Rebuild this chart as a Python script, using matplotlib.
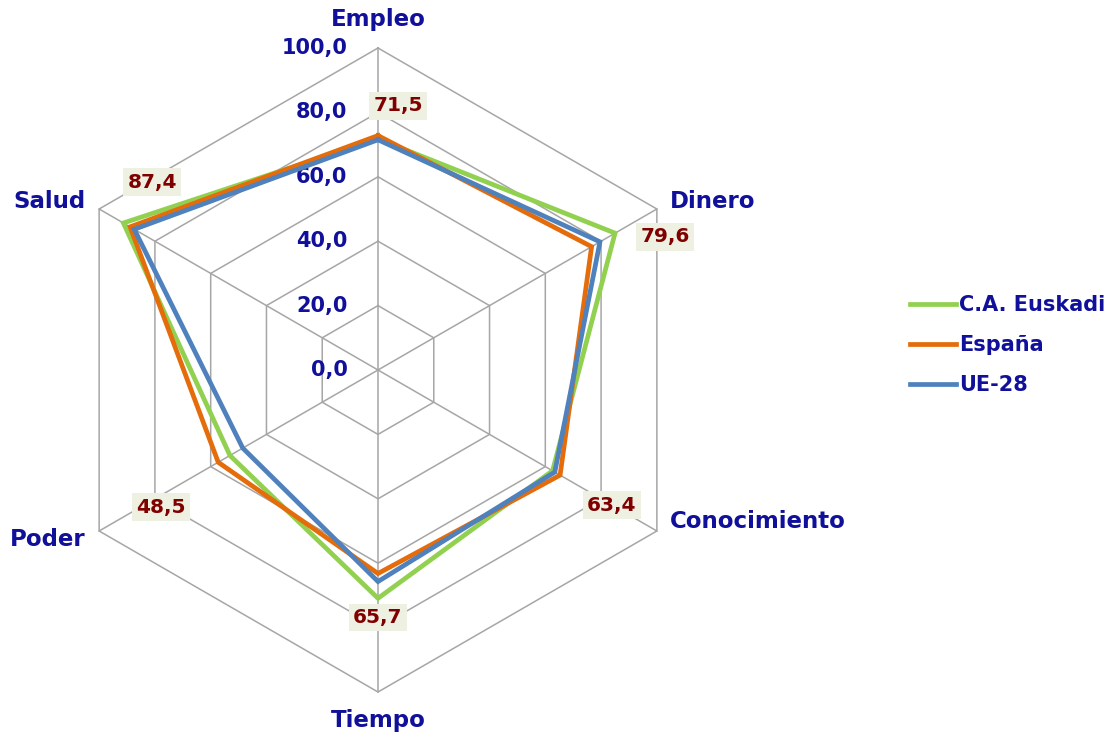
import numpy as np
import matplotlib.pyplot as plt

# ejes del radar (sentido horario desde arriba)
axes_names = ["Empleo", "Dinero", "Conocimiento", "Tiempo", "Poder", "Salud"]
series_names = ["C.A. Euskadi", "España", "UE-28"]
euskadi = [71.8, 85.0, 62.6, 70.9, 53.1, 91.3]
espana = [72.8, 76.6, 65.3, 63.2, 57.3, 88.9]
ue28 = [71.5, 79.6, 63.4, 65.7, 48.5, 87.4]
ring_values = [0, 20, 40, 60, 80, 100]

colors = ["#92d050", "#e46c0a", "#4f81bd"]
navy = "#10109a"
PX = 3.22  # pixels per unit

# offsets (pixels) for the data labels of UE-28 and the axis names
label_off = [(20, 34), (65, 5), (57, -33), (0, -36), (-82, -59), (18, 47)]
name_off = [(0, 28), (13, 8), (13, 10), (0, -28), (-14, -9), (-14, 7)]
name_ha = ["center", "left", "left", "center", "right", "right"]

theta = np.deg2rad(90 - 60 * np.arange(len(axes_names)))


def xy(values):
    v = np.asarray(values, dtype=float)
    x = v * np.cos(theta)
    y = v * np.sin(theta)
    return np.append(x, x[0]), np.append(y, y[0])


fig = plt.figure(figsize=(11.12, 7.34), dpi=100)
ax = fig.add_axes([0, 0, 1, 1])
ax.set_xlim(-378 / PX, (1112 - 378) / PX)
ax.set_ylim((370 - 734) / PX, 370 / PX)
ax.axis("off")

grid_c = "#a6a6a6"
for r in ring_values[1:]:
    gx, gy = xy([r] * len(axes_names))
    ax.plot(gx, gy, color=grid_c, lw=1.1, zorder=1)
for t in theta:
    ax.plot([0, 100 * np.cos(t)], [0, 100 * np.sin(t)], color=grid_c, lw=1.1, zorder=1)

for r in ring_values:
    ax.text(-9.5, r, f"{r:.1f}".replace(".", ","), ha="right", va="center",
            fontsize=15, fontweight="bold", color=navy)

for name, vals, c in zip(series_names, [euskadi, espana, ue28], colors):
    lx, ly = xy(vals)
    ax.plot(lx, ly, color=c, lw=3.4, label=name, zorder=3, solid_joinstyle="miter")

ux, uy = xy(ue28)
for i, v in enumerate(ue28):
    ax.annotate(f"{v:.1f}".replace(".", ","), (ux[i], uy[i]), xytext=label_off[i],
                textcoords="offset pixels", ha="center", va="center",
                fontsize=14.5, fontweight="bold", color="#800000", zorder=5,
                bbox=dict(boxstyle="square,pad=0.22", fc="#eef0e2", ec="none"))

ox, oy = xy([100] * len(axes_names))
for i, name in enumerate(axes_names):
    ax.annotate(name, (ox[i], oy[i]), xytext=name_off[i], textcoords="offset pixels",
                ha=name_ha[i], va="center", fontsize=16.5, fontweight="bold", color=navy)

leg = ax.legend(loc="upper left", bbox_to_anchor=(900 / 1112, 1 - 285 / 734),
                frameon=False, handlelength=2.2, handletextpad=0.15, labelspacing=0.95,
                prop=dict(size=15, weight="bold"), borderpad=0)
for t in leg.get_texts():
    t.set_color(navy)

fig.savefig("out.png", dpi=100)
